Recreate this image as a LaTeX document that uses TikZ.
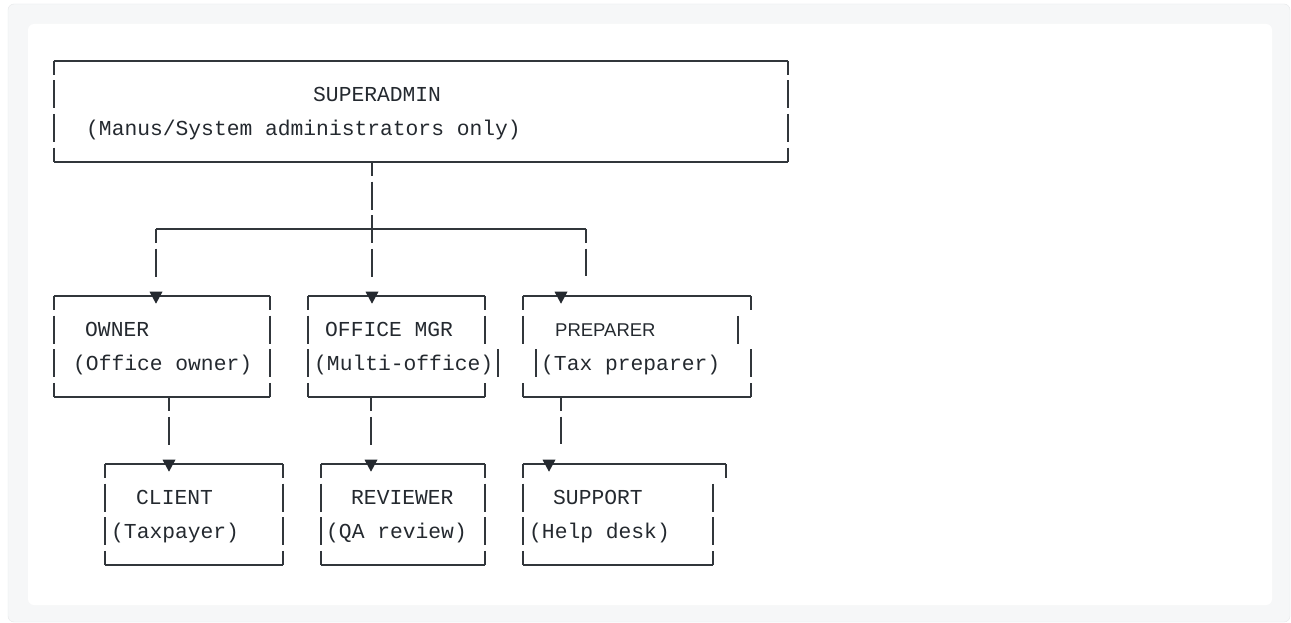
\documentclass[tikz,border=0pt]{standalone}
\usepackage{fontspec}
\setmonofont{Liberation Mono}
\newfontfamily\plainsans{Liberation Sans}
\usepackage{tikz}
\usetikzlibrary{calc}

\definecolor{ink}{HTML}{31363B}
\definecolor{txt}{HTML}{24292F}
\definecolor{panel}{HTML}{F6F7F8}
\definecolor{rim}{HTML}{E6E8EA}

\tikzset{
	rolebox/.style={rectangle, inner sep=0pt, minimum height=100.8pt},
	hline/.style={draw=ink, line width=1.5pt},
	vline/.style={draw=ink, line width=1.5pt, dash pattern=on 28pt off 5.6pt, dash phase=14pt},
	roletext/.style={anchor=base west, inner sep=0pt, text=txt, font=\ttfamily\fontsize{21.3}{26}\selectfont},
	tip/.style={fill=txt}
}

\begin{document}
\begin{tikzpicture}[x=1pt, y=-1pt]
	\useasboundingbox (0,0) rectangle (1291,623);
	% page and code panel
	\fill[white] (0,0) rectangle (1291,623);
	\draw[rim, fill=panel, rounded corners=6pt] (8,4) rectangle (1290,622);
	\fill[white, rounded corners=6pt] (28,24) rectangle (1272,605);

	% boxes (rows are 33.6 apart, first row at 61)
	\node[rolebox, minimum width=734pt] (superadmin) at (421,111.4) {};
	\node[rolebox, minimum width=216pt] (owner) at (162,346.6) {};
	\node[rolebox, minimum width=177pt] (officemgr) at (396.5,346.6) {};
	\node[rolebox, minimum width=228pt] (preparer) at (637,346.6) {};
	\node[rolebox, minimum width=178pt] (client) at (194,514.6) {};
	\node[rolebox, minimum width=164pt] (reviewer) at (403,514.6) {};
	\node[rolebox, minimum width=203pt] (support) at (624.5,514.6) {};

	% texts
	\node[roletext] (superadmin-t) at (313,101.6) {SUPERADMIN};
	\node[roletext] (superadmin-s) at (86,135.2) {(Manus/System administrators only)};
	\node[roletext] (owner-t) at (85,336.8) {OWNER};
	\node[roletext] (owner-s) at (73,370.4) {(Office owner)};
	\node[roletext] (officemgr-t) at (325,336.8) {OFFICE MGR};
	\node[roletext] (officemgr-s) at (314,370.4) {(Multi-office)};
	\node[roletext, font=\plainsans\fontsize{18.5}{22}\selectfont] (preparer-t) at (555,336.8) {PREPARER};
	\node[roletext] (preparer-s) at (541,370.4) {(Tax preparer)};
	\node[roletext] (client-t) at (136,504.8) {CLIENT};
	\node[roletext] (client-s) at (111,538.4) {(Taxpayer)};
	\node[roletext] (reviewer-t) at (351,504.8) {REVIEWER};
	\node[roletext] (reviewer-s) at (326,538.4) {(QA review)};
	\node[roletext] (support-t) at (553,504.8) {SUPPORT};
	\node[roletext] (support-s) at (529,538.4) {(Help desk)};

	% frames
	\foreach \n in {superadmin, owner, client, reviewer} {
		\draw[hline] (\n.north west) -- (\n.north east);
		\draw[hline] (\n.south west) -- (\n.south east);
		\draw[vline] (\n.north west) -- (\n.south west);
		\draw[vline] (\n.north east) -- (\n.south east);
	}
	\foreach \n in {officemgr, preparer} {
		\draw[hline] (\n.north west) -- (\n.north east);
		\draw[hline] (\n.south west) -- (\n.south east);
	}
	% office mgr: second line sits one cell further right
	\draw[vline] (officemgr.north west) -- (officemgr.south west);
	\draw[vline] (officemgr.north east) -- ++(0,47.6);
	\draw[hline] ([xshift=13pt,yshift=-2.8pt]officemgr.east) -- ++(0,28);
	\draw[hline] (officemgr.south east) -- ++(0,-14);
	% preparer
	\draw[vline] (preparer.north west) -- ++(0,47.6);
	\draw[hline] ([xshift=13pt,yshift=-2.8pt]preparer.west) -- ++(0,28);
	\draw[hline] (preparer.south west) -- ++(0,-14);
	\draw[hline] (preparer.north east) -- ++(0,14);
	\draw[hline] ([xshift=-13pt,yshift=30.8pt]preparer.east) -- ++(0,28);
	\draw[hline] ([yshift=-2.8pt]preparer.east) -- ++(0,28);
	\draw[hline] (preparer.south east) -- ++(0,-14);
	% support
	\draw[hline] (support.north west) -- (support.north east);
	\draw[hline] (support.south west) -- ([xshift=-13pt]support.south east);
	\draw[vline] (support.north west) -- (support.south west);
	\draw[hline] (support.north east) -- ++(0,14);
	\draw[vline, dash phase=0pt] ([xshift=-13pt,yshift=30.8pt]support.east) -- ([xshift=-13pt]support.south east);

	% arrow heads on the box tops
	\coordinate (owner-in) at (156,296.2);
	\coordinate (officemgr-in) at (372,296.2);
	\coordinate (preparer-in) at (561,296.2);
	\coordinate (client-in) at (169,464.2);
	\coordinate (reviewer-in) at (371,464.2);
	\coordinate (support-in) at (549,464.2);
	\foreach \n in {owner-in, officemgr-in, preparer-in, client-in, reviewer-in, support-in}
		\fill[tip] (\n) ++(-6.5,-4.5) -- ++(13,0) -- ++(-6.5,12) -- cycle;

	% connectors
	\coordinate (busL) at (156,229);
	\coordinate (hub) at (372,229);
	\coordinate (busR) at (586,229);
	\coordinate (prep-tee) at (561,397);
	\draw[hline] (busL) -- (busR);
	\draw[vline] (superadmin.south -| hub) -- ([yshift=19.6pt]officemgr-in);
	\draw[vline] (busL) -- ([yshift=19.6pt]owner-in);
	\draw[vline] (busR) -- ([yshift=19.6pt]preparer.north -| busR);
	\draw[vline] (owner.south -| client-in) -- ([yshift=19.6pt]client-in);
	\draw[vline] (officemgr.south -| reviewer-in) -- ([yshift=19.6pt]reviewer-in);
	\draw[vline] (prep-tee) -- ([yshift=19.6pt]support.north -| prep-tee);
\end{tikzpicture}
\end{document}
